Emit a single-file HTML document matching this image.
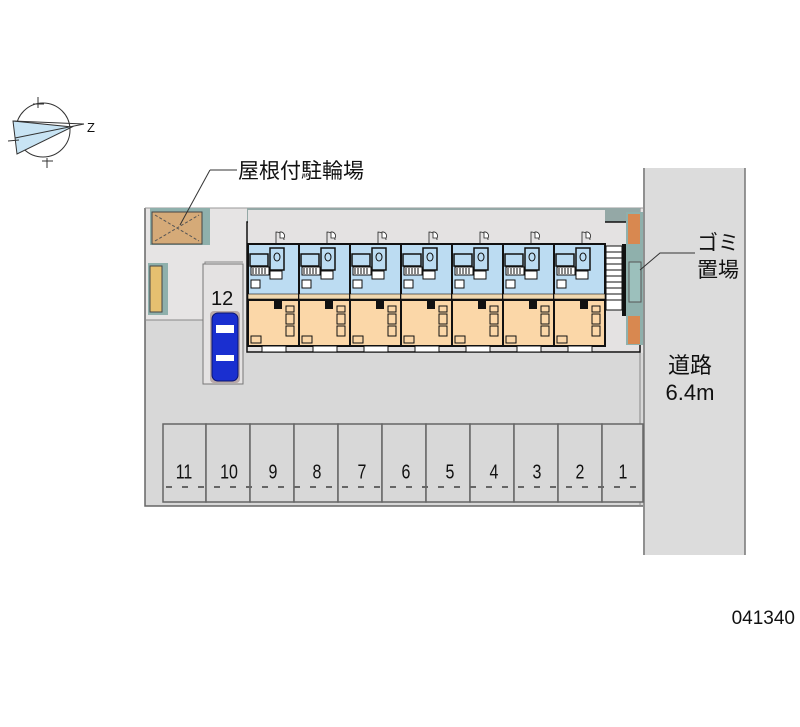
<!DOCTYPE html>
<html><head><meta charset="utf-8"><style>
html,body{margin:0;padding:0;background:#fff;}
svg{display:block;}
text{font-family:"Liberation Sans","Noto Sans CJK JP",sans-serif;fill:#111;}
</style></head><body>
<svg width="800" height="727" viewBox="0 0 800 727" xmlns="http://www.w3.org/2000/svg">
<defs>
<g id="unit">
  <rect x="0" y="0" width="51" height="136" fill="#e4e2e2"/>
  <path d="M28 36 V22 a8 8 0 0 1 8 8" fill="none" stroke="#222" stroke-width="0.8"/>
  <path d="M32 22 a4 4 0 0 1 4 6 h-4 z" fill="#fff" stroke="#222" stroke-width="0.8"/>
  <rect x="0" y="34" width="51" height="56" fill="#bcdcf2" stroke="#111" stroke-width="2"/>
  <rect x="0" y="90" width="51" height="46" fill="#fbd7a8" stroke="#111" stroke-width="2"/>
  <rect x="2" y="44" width="18" height="12" fill="#bcdcf2" stroke="#111" stroke-width="1.5"/>
  <rect x="3" y="57" width="18" height="8" fill="#fff" stroke="#111" stroke-width="1"/>
  <path d="M5 58v6M8 58v6M11 58v6M14 58v6M17 58v6" stroke="#111"/>
  <rect x="3" y="70" width="9" height="8" fill="#fff" stroke="#111"/>
  <rect x="22" y="38" width="14" height="22" fill="#bcdcf2" stroke="#111" stroke-width="1.5"/>
  <ellipse cx="29" cy="47" rx="3" ry="4" fill="none" stroke="#111"/>
  <rect x="22" y="61" width="12" height="8" fill="#fff" stroke="#111"/>
  <rect x="0" y="84" width="51" height="5" fill="#f0d8b0" stroke="#111" stroke-width="0.6"/>
  <rect x="26" y="90" width="8" height="9" fill="#111"/>
  <rect x="38" y="104" width="8" height="10" fill="#fbd7a8" stroke="#111"/>
  <rect x="38" y="116" width="8" height="10" fill="#fbd7a8" stroke="#111"/>
  <rect x="38" y="96" width="8" height="6" fill="#fbd7a8" stroke="#111"/>
  <rect x="3" y="126" width="10" height="7" fill="#fbd7a8" stroke="#111"/>
  <rect x="14" y="136" width="24" height="6" fill="#fff" stroke="#111"/>
</g>
</defs>

<!-- compass -->
<g stroke="#333" fill="none" stroke-width="1">
  <circle cx="43" cy="130" r="27" fill="#fff"/>
  <polygon points="13,121 72,127 17,154" fill="#c8e4f4"/>
  <line x1="13" y1="121" x2="84" y2="124"/>
  <line x1="15" y1="138" x2="84" y2="124"/>
  <line x1="38" y1="97" x2="38" y2="108"/><line x1="33" y1="104" x2="44" y2="104"/>
  <line x1="47" y1="158" x2="47" y2="168"/><line x1="42" y1="161" x2="53" y2="161"/>
  <line x1="8" y1="141" x2="19" y2="140"/>
</g>
<text x="87" y="132" font-size="13">Z</text>

<!-- road -->
<rect x="643" y="168" width="102" height="387" fill="#dcdcdc"/>
<line x1="644" y1="168" x2="644" y2="555" stroke="#777" stroke-width="1.5"/>
<line x1="745" y1="168" x2="745" y2="555" stroke="#777" stroke-width="1.5"/>

<!-- lot -->
<rect x="145" y="208" width="498" height="298" fill="#d8d8d8"/>
<rect x="145" y="208" width="100" height="112" fill="#e6e4e4"/>
<rect x="245" y="208" width="398" height="145" fill="#e6e4e4"/>
<polyline points="145,208 145,506 643,506" fill="none" stroke="#666" stroke-width="1.5"/>
<line x1="145" y1="208" x2="643" y2="208" stroke="#999" stroke-width="1"/>
<line x1="640" y1="208" x2="640" y2="506" stroke="#888" stroke-width="1"/>
<polyline points="145,320 205,320 205,262 243,262" fill="none" stroke="#888" stroke-width="1"/>

<!-- bike parking -->
<rect x="150" y="208" width="60" height="37" fill="#8fb0ac"/>
<rect x="152" y="212" width="50" height="32" fill="#d5aa78" stroke="#444" stroke-width="1"/>
<path d="M155 215 L199 241 M155 241 L199 215" stroke="#555" stroke-dasharray="3,2" fill="none"/>
<rect x="148" y="263" width="20" height="52" fill="#8fb0ac"/>
<rect x="150" y="266" width="12" height="46" fill="#e6c070" stroke="#444"/>
<line x1="180" y1="225" x2="210" y2="170" stroke="#333"/>
<line x1="210" y1="170" x2="237" y2="170" stroke="#333"/>
<text x="238" y="178" font-size="21">屋根付駐輪場</text>

<!-- parking 12 -->
<rect x="203" y="264" width="40" height="120" fill="#e4e2e2" stroke="#777"/>
<text x="211" y="305" font-size="20">12</text>
<rect x="210" y="311" width="30" height="72" rx="4" fill="#b8a8a8"/>
<rect x="212" y="313" width="26" height="68" rx="6" fill="#1a2fd0" stroke="#0a1470"/>
<rect x="216" y="325" width="18" height="8" fill="#fff"/>
<rect x="216" y="355" width="18" height="6" fill="#fff"/>

<!-- building -->
<rect x="247" y="208" width="393" height="14" fill="#94a8a6"/>
<rect x="247" y="222" width="393" height="130" fill="#e4e2e2" stroke="#111" stroke-width="1.5"/>
<use href="#unit" x="248" y="210"/>
<use href="#unit" x="299" y="210"/>
<use href="#unit" x="350" y="210"/>
<use href="#unit" x="401" y="210"/>
<use href="#unit" x="452" y="210"/>
<use href="#unit" x="503" y="210"/>
<use href="#unit" x="554" y="210"/>
<rect x="606" y="246" width="16" height="64" fill="#fff" stroke="#111"/>
<path d="M606 252h16M606 258h16M606 264h16M606 270h16M606 276h16M606 282h16M606 288h16M606 294h16M606 300h16" stroke="#111"/>
<rect x="622" y="244" width="4" height="72" fill="#111"/>
<rect x="626" y="212" width="17" height="133" fill="#8fb0ac"/>
<rect x="628" y="214" width="12" height="30" fill="#d88850"/>
<rect x="628" y="316" width="12" height="28" fill="#d88850"/>
<rect x="629" y="262" width="12" height="40" fill="#9cc0bc" stroke="#555"/>

<!-- gomi -->
<polyline points="640,270 660,253 695,253" fill="none" stroke="#333"/>
<text x="697" y="250" font-size="21">ゴミ</text>
<text x="697" y="277" font-size="21">置場</text>
<text x="690" y="373" font-size="22" text-anchor="middle">道路</text>
<text x="690" y="400" font-size="22" text-anchor="middle">6.4m</text>

<!-- spaces -->
<g fill="#d8d8d8" stroke="#666" stroke-width="1.5">
<rect x="163" y="424" width="43" height="78"/><rect x="206" y="424" width="44" height="78"/>
<rect x="250" y="424" width="44" height="78"/><rect x="294" y="424" width="44" height="78"/>
<rect x="338" y="424" width="44" height="78"/><rect x="382" y="424" width="44" height="78"/>
<rect x="426" y="424" width="44" height="78"/><rect x="470" y="424" width="44" height="78"/>
<rect x="514" y="424" width="44" height="78"/><rect x="558" y="424" width="44" height="78"/>
<rect x="602" y="424" width="41" height="78"/>
</g>
<g stroke="#666" stroke-width="2" stroke-dasharray="6,10">
<line x1="166" y1="487" x2="640" y2="487"/>
</g>
<g font-size="16" text-anchor="middle" transform="translate(0,-126) scale(1,1.27)">
<text x="184" y="476">11</text><text x="229" y="476">10</text><text x="273" y="476">9</text>
<text x="317" y="476">8</text><text x="362" y="476">7</text><text x="406" y="476">6</text>
<text x="450" y="476">5</text><text x="494" y="476">4</text><text x="537" y="476">3</text>
<text x="580" y="476">2</text><text x="623" y="476">1</text>
</g>

<text x="795" y="624" font-size="19" text-anchor="end">041340</text>
</svg>
</body></html>
